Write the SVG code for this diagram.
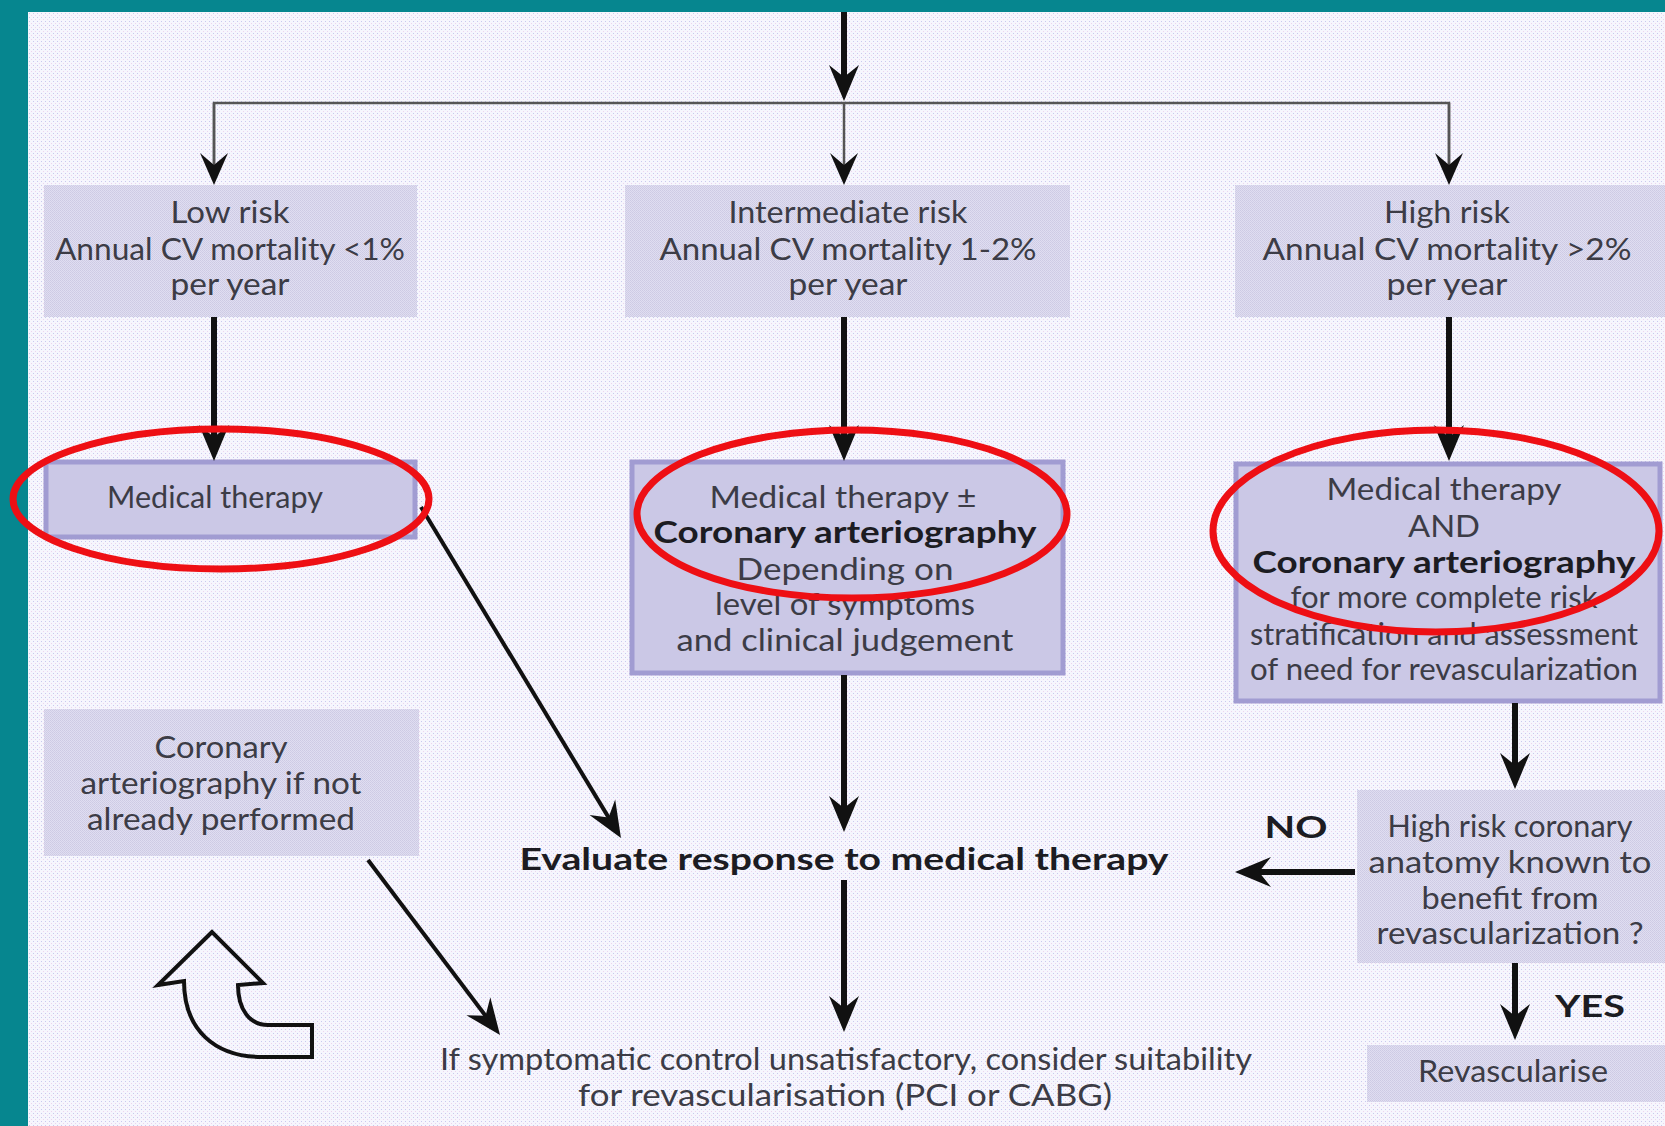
<svg xmlns="http://www.w3.org/2000/svg" width="1665" height="1126" viewBox="0 0 1665 1126">
<style>
.t{font-family:Lato,"Liberation Sans",sans-serif;font-size:31px;fill:#3c3c46;text-anchor:middle}
.b{font-family:Lato,"Liberation Sans",sans-serif;font-size:31px;font-weight:bold;fill:#1c1c22;text-anchor:middle}
.box1{fill:url(#hatch)}
.box2{fill:#cbc8e6;stroke:#a19cd2;stroke-width:5}
.thick{stroke:#111;stroke-width:6;fill:none;marker-end:url(#ah)}
.diag{stroke:#111;stroke-width:4;fill:none;marker-end:url(#ah)}
.thin{stroke:#555;stroke-width:2.5;fill:none;marker-end:url(#ahs)}
.ring{fill:none;stroke:#ee0f14;stroke-width:7}
</style>
<defs>
<pattern id="dots" width="4" height="4" patternUnits="userSpaceOnUse">
<rect width="4" height="4" fill="#f6f6fd"/>
<rect x="1" y="1" width="1" height="1" fill="#c9c9ee"/>
<rect x="3" y="3" width="1" height="1" fill="#ecd4ee"/>
</pattern>
<pattern id="hatch" width="2" height="2" patternUnits="userSpaceOnUse">
<rect width="2" height="2" fill="#e0def0"/>
<rect width="1" height="1" fill="#cdcae4"/>
<rect x="1" y="1" width="1" height="1" fill="#d0cde8"/>
</pattern>
<marker id="ah" markerUnits="userSpaceOnUse" markerWidth="40" markerHeight="34" viewBox="-28 -17 40 34" refX="0" refY="0" orient="auto">
<path d="M-26,-15 L10,0 L-26,15 L-14,0 Z" fill="#111"/>
</marker>
<marker id="ahs" markerUnits="userSpaceOnUse" markerWidth="36" markerHeight="32" viewBox="-24 -16 36 32" refX="0" refY="0" orient="auto">
<path d="M-22,-14 L10,0 L-22,14 L-10,0 Z" fill="#111"/>
</marker>
</defs>

<rect x="0" y="0" width="1665" height="1126" fill="url(#dots)"/>
<rect x="0" y="0" width="1665" height="12" fill="#06868f"/>
<rect x="0" y="0" width="28" height="1126" fill="#06868f"/>

<g id="low-risk">
<rect class="box1" x="44" y="185" width="373" height="132"/>
<text class="t" x="230" y="223" textLength="119" lengthAdjust="spacingAndGlyphs">Low risk</text>
<text class="t" x="230" y="260" textLength="350" lengthAdjust="spacingAndGlyphs">Annual CV mortality &lt;1%</text>
<text class="t" x="230" y="295" textLength="119" lengthAdjust="spacingAndGlyphs">per year</text>
</g>
<g id="intermediate-risk">
<rect class="box1" x="625" y="185" width="445" height="132"/>
<text class="t" x="848" y="223" textLength="239" lengthAdjust="spacingAndGlyphs">Intermediate risk</text>
<text class="t" x="848" y="260" textLength="377" lengthAdjust="spacingAndGlyphs">Annual CV mortality 1-2%</text>
<text class="t" x="848" y="295" textLength="119" lengthAdjust="spacingAndGlyphs">per year</text>
</g>
<g id="high-risk">
<rect class="box1" x="1235" y="185" width="430" height="132"/>
<text class="t" x="1447" y="223" textLength="126" lengthAdjust="spacingAndGlyphs">High risk</text>
<text class="t" x="1447" y="260" textLength="369" lengthAdjust="spacingAndGlyphs">Annual CV mortality &gt;2%</text>
<text class="t" x="1447" y="295" textLength="121" lengthAdjust="spacingAndGlyphs">per year</text>
</g>

<g id="medical-therapy-low">
<rect class="box2" x="46" y="462" width="369" height="75"/>
<text class="t" x="215" y="508" textLength="216" lengthAdjust="spacingAndGlyphs">Medical therapy</text>
</g>
<g id="medical-therapy-intermediate">
<rect class="box2" x="632" y="462" width="431" height="211"/>
<text class="t" x="843" y="508" textLength="267" lengthAdjust="spacingAndGlyphs">Medical therapy ±</text>
<text class="b" x="845" y="543" textLength="383" lengthAdjust="spacingAndGlyphs">Coronary arteriography</text>
<text class="t" x="845" y="580" textLength="217" lengthAdjust="spacingAndGlyphs">Depending on</text>
<text class="t" x="845" y="615" textLength="260" lengthAdjust="spacingAndGlyphs">level of symptoms</text>
<text class="t" x="845" y="651" textLength="337" lengthAdjust="spacingAndGlyphs">and clinical judgement</text>
</g>
<g id="medical-therapy-high">
<rect class="box2" x="1236" y="464" width="424" height="237"/>
<text class="t" x="1444" y="500" textLength="235" lengthAdjust="spacingAndGlyphs">Medical therapy</text>
<text class="t" x="1444" y="537" textLength="72" lengthAdjust="spacingAndGlyphs">AND</text>
<text class="b" x="1444" y="573" textLength="383" lengthAdjust="spacingAndGlyphs">Coronary arteriography</text>
<text class="t" x="1444" y="608" textLength="307" lengthAdjust="spacingAndGlyphs">for more complete risk</text>
<text class="t" x="1444" y="645" textLength="388" lengthAdjust="spacingAndGlyphs">stratification and assessment</text>
<text class="t" x="1444" y="680" textLength="388" lengthAdjust="spacingAndGlyphs">of need for revascularization</text>
</g>

<g id="coronary-if-not-performed">
<rect class="box1" x="44" y="709" width="375" height="147"/>
<text class="t" x="221" y="758" textLength="133" lengthAdjust="spacingAndGlyphs">Coronary</text>
<text class="t" x="221" y="794" textLength="281" lengthAdjust="spacingAndGlyphs">arteriography if not</text>
<text class="t" x="221" y="830" textLength="268" lengthAdjust="spacingAndGlyphs">already performed</text>
</g>

<g id="evaluate-response">
<text class="b" x="844" y="870" textLength="649" lengthAdjust="spacingAndGlyphs">Evaluate response to medical therapy</text>
</g>

<g id="high-risk-anatomy">
<rect class="box1" x="1357" y="790" width="308" height="173"/>
<text class="t" x="1510" y="837" textLength="245" lengthAdjust="spacingAndGlyphs">High risk coronary</text>
<text class="t" x="1510" y="873" textLength="283" lengthAdjust="spacingAndGlyphs">anatomy known to</text>
<text class="t" x="1510" y="909" textLength="177" lengthAdjust="spacingAndGlyphs">benefit from</text>
<text class="t" x="1510" y="944" textLength="267" lengthAdjust="spacingAndGlyphs">revascularization ?</text>
</g>

<g id="revascularise">
<rect class="box1" x="1367" y="1045" width="298" height="57"/>
<text class="t" x="1513" y="1082" textLength="190" lengthAdjust="spacingAndGlyphs">Revascularise</text>
</g>

<g id="consider-revascularisation">
<text class="t" x="846" y="1070" textLength="812" lengthAdjust="spacingAndGlyphs">If symptomatic control unsatisfactory, consider suitability</text>
<text class="t" x="845" y="1106" textLength="534" lengthAdjust="spacingAndGlyphs">for revascularisation (PCI or CABG)</text>
</g>

<g id="return-arrow">
<path d="M212,932 L158,985 L184,981 C184,1030 215,1057 262,1057 L312,1057 L312,1025 L268,1025 C250,1025 238,1010 238,985 L263,983 Z" fill="none" stroke="#111" stroke-width="4" stroke-linejoin="miter"/>
</g>

<g id="connectors">
<line class="thick" x1="844" y1="12" x2="844" y2="91"/>
<path d="M214,175 V103 H1449 V175" fill="none" stroke="#555" stroke-width="2.5"/>
<line class="thin" x1="214" y1="103" x2="214" y2="175"/>
<line class="thin" x1="844" y1="103" x2="844" y2="175"/>
<line class="thin" x1="1449" y1="103" x2="1449" y2="175"/>
<line class="thick" x1="214" y1="317" x2="214" y2="451"/>
<line class="thick" x1="844" y1="317" x2="844" y2="451"/>
<line class="thick" x1="1449" y1="317" x2="1449" y2="451"/>
<line class="diag" x1="421" y1="507" x2="615.8" y2="829.4"/>
<line class="thick" x1="844" y1="675" x2="844" y2="822"/>
<line class="thick" x1="844" y1="880" x2="844" y2="1022"/>
<line class="diag" x1="368" y1="860" x2="494" y2="1027"/>
<line class="thick" x1="1515" y1="703" x2="1515" y2="779"/>
<line class="thick" x1="1355" y1="872" x2="1245" y2="872"/>
<line class="thick" x1="1515" y1="963" x2="1515" y2="1030"/>
<text class="b" x="1296" y="838" font-size="34" textLength="63" lengthAdjust="spacingAndGlyphs">NO</text>
<text class="b" x="1590" y="1017" font-size="34" textLength="70" lengthAdjust="spacingAndGlyphs">YES</text>
</g>

<g id="highlights">
<ellipse class="ring" cx="221" cy="499" rx="208" ry="70"/>
<ellipse class="ring" cx="852" cy="514" rx="215" ry="84"/>
<ellipse class="ring" cx="1436" cy="531" rx="223" ry="101"/>
</g>
</svg>
